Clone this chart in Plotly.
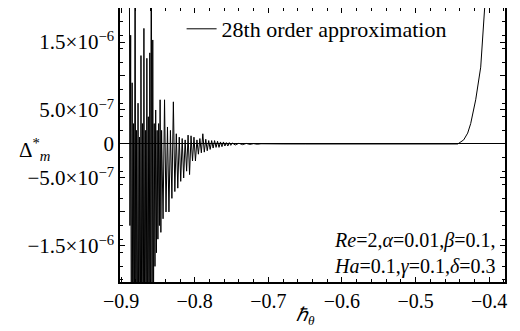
import plotly.graph_objects as go

# x values (hbar_theta) of the 28th order approximation curve
h_theta = [
    -0.889, -0.888, -0.887, -0.886, -0.885, -0.884, -0.883, -0.882, -0.881, -0.880,
    -0.879, -0.878, -0.877, -0.876, -0.875, -0.874, -0.873, -0.872, -0.871, -0.870,
    -0.869, -0.868, -0.867, -0.866, -0.865, -0.864, -0.863, -0.862, -0.861, -0.860,
    -0.859, -0.858, -0.857, -0.856, -0.855, -0.854, -0.853, -0.852, -0.851, -0.850,
    -0.849, -0.848, -0.847, -0.846, -0.845,
    -0.843, -0.841, -0.839, -0.837, -0.835, -0.833, -0.831,
    -0.829, -0.827, -0.825, -0.823, -0.821, -0.819, -0.817, -0.815, -0.813, -0.811,
    -0.809, -0.807, -0.805, -0.803, -0.801, -0.799, -0.797, -0.795, -0.793, -0.791,
    -0.789, -0.787, -0.785, -0.783, -0.781, -0.779, -0.777, -0.775, -0.773, -0.771,
    -0.769, -0.767, -0.765, -0.763, -0.761, -0.759, -0.757, -0.755, -0.753, -0.751,
    -0.749, -0.745, -0.740, -0.735, -0.730, -0.725, -0.720, -0.715, -0.710, -0.700,
    -0.680, -0.650, -0.600, -0.550, -0.500, -0.460, -0.4427, -0.4346, -0.4292, -0.4251,
    -0.4183, -0.4115, -0.4075, -0.4047, -0.400, -0.395,
]

# Delta*_m values, in units of 1e-7
delta_e7 = [
    40, -12, 16, -40, 9, -40, 3, -40, 40, -40,
    2, -40, 6, -35, 1, -40, 13, -30, 3, -40,
    17, -30, 2, -35, 12.6, -30, 4, -38, 13.4, -30,
    40, -35, 15.3, -25, 3, -18, 5, -16, 2, -14,
    3, -12, 6.5, -13, 2,
    -11, 6.5, -10, 2.5, -10, 2, -8,
    6.2, -7, 1.5, -6.5, 1, -5.5, 0.8, -5, 0.6, -4,
    1.3, -4.5, 1.2, -2.5, 1.0, -2.5, 0.6, -1.5, 0.8, -1.3,
    1.5, -1.2, 0.7, -1.0, 0.5, -0.8, 0.5, -0.6, 0.5, -0.5,
    0.4, -0.5, 0.3, -0.4, 0.3, -0.3, 0.2, -0.3, 0.2, -0.2,
    0.15, -0.15, 0.1, -0.1, 0.08, -0.06, 0.05, -0.04, 0.03, -0.01,
    0.005, 0, 0, 0, 0, 0, 0, 0.6, 1.6, 3.0,
    6.5, 11.3, 16.3, 20.0, 30, 45,
]

y_tickvals = [-1.5e-6, -1e-6, -5e-7, 0, 5e-7, 1e-6, 1.5e-6]
y_ticktext = ["−1.5×10<sup>−6</sup>", "", "−5.0×10<sup>−7</sup>", "0",
              "5.0×10<sup>−7</sup>", "", "1.5×10<sup>−6</sup>"]
x_tickvals = [-0.9, -0.8, -0.7, -0.6, -0.5, -0.4]
x_ticktext = ["−0.9", "−0.8", "−0.7", "−0.6", "−0.5", "−0.4"]

FONT = "Liberation Serif"
FS = 21

fig = go.Figure()
fig.add_trace(go.Scatter(
    x=h_theta, y=[v * 1e-7 for v in delta_e7], mode="lines",
    line=dict(color="black", width=1),
    name="28th order approximation",
))

fig.update_layout(
    width=512, height=323,
    margin=dict(l=112, r=15, t=0, b=49, autoexpand=False),
    paper_bgcolor="white", plot_bgcolor="white",
    font=dict(family=FONT, size=FS, color="black"),
    showlegend=True,
    legend=dict(x=0.16, y=1.0, xanchor="left", yanchor="top",
                bgcolor="rgba(0,0,0,0)", font=dict(family=FONT, size=22), borderwidth=0),
)
fig.update_xaxes(
    range=[-0.9015, -0.3785], tickvals=x_tickvals, ticktext=x_ticktext,
    automargin=False,
    ticks="inside", ticklen=5, tickcolor="black", showgrid=False, zeroline=False,
    showline=True, linecolor="black", linewidth=1.5, mirror="allticks",
    minor=dict(dtick=0.02, tick0=0, ticks="inside", ticklen=3, tickcolor="black"),
    tickfont=dict(family=FONT, size=20),
)
fig.update_yaxes(
    range=[-2.03e-6, 2.0e-6], tickvals=y_tickvals, ticktext=y_ticktext,
    automargin=False,
    ticks="inside", ticklen=5, tickcolor="black", showgrid=False,
    zeroline=True, zerolinecolor="black", zerolinewidth=1,
    showline=True, linecolor="black", linewidth=1.5, mirror="allticks",
    minor=dict(dtick=2e-7, tick0=0, ticks="inside", ticklen=3, tickcolor="black"),
    tickfont=dict(family=FONT, size=FS),
)

fig.add_annotation(xref="paper", yref="paper", x=-0.177, y=0.482, xanchor="right",
                   yanchor="middle", showarrow=False,
                   text="Δ<sup>*</sup><sub><i>m</i></sub>", font=dict(family=FONT, size=FS))
fig.add_annotation(xref="paper", yref="paper", x=0.483, y=-0.175, xanchor="center",
                   yanchor="bottom", showarrow=False,
                   text="<i>ℏ</i><sub><i>θ</i></sub>", font=dict(family=FONT, size=19))
fig.add_annotation(xref="paper", yref="paper", x=0.979, y=0.008, xanchor="right",
                   yanchor="bottom", showarrow=False, align="right",
                   text="<i>Re</i>=2,<i>α</i>=0.01,<i>β</i>=0.1,<br>"
                        "<i>Ha</i>=0.1,<i>γ</i>=0.1,<i>δ</i>=0.3",
                   font=dict(family=FONT, size=20))

fig.write_html("out.html")
